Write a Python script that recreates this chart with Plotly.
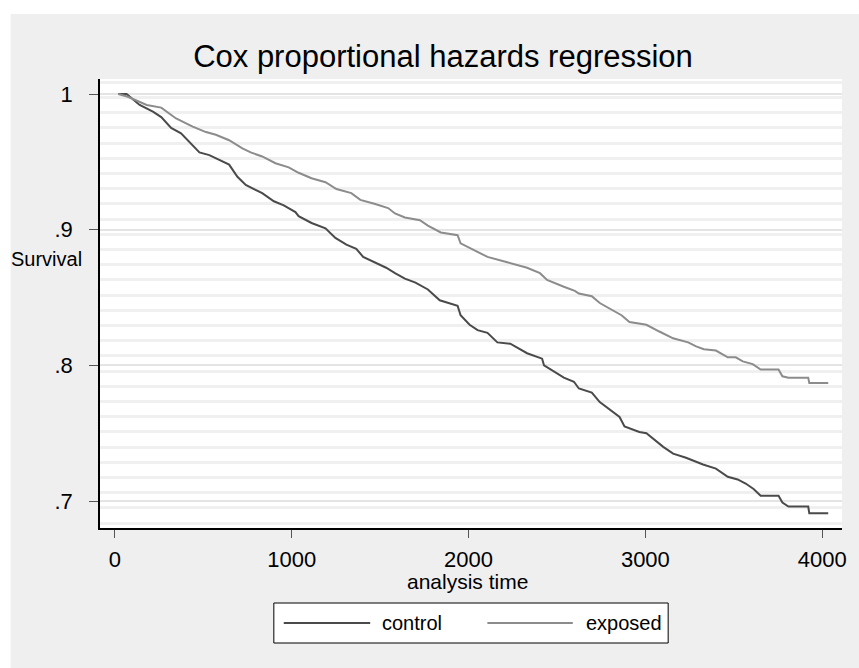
import plotly.graph_objects as go

# ---- data ----
control_time = [19, 66, 140, 215, 262, 300, 318, 374, 412, 478, 534, 599, 646, 693, 740, 833, 899, 955,
                1021, 1039, 1112, 1191, 1247, 1309, 1365, 1404, 1472, 1534, 1584, 1640, 1700, 1770, 1837,
                1938, 1955, 2006, 2051, 2107, 2163, 2236, 2331, 2416, 2427, 2539, 2596, 2624, 2697, 2742,
                2854, 2882, 2966, 3006, 3101, 3157, 3230, 3326, 3399, 3466, 3522, 3567, 3612, 3652, 3753,
                3775, 3809, 3921, 3927, 4034]
control_surv = [1.0, 1.0, 0.992, 0.987, 0.983, 0.977, 0.975, 0.971, 0.966, 0.957, 0.955, 0.951, 0.948, 0.939,
                0.933, 0.927, 0.921, 0.918, 0.913, 0.910, 0.905, 0.901, 0.894, 0.889, 0.886, 0.880, 0.876,
                0.872, 0.868, 0.864, 0.861, 0.856, 0.848, 0.844, 0.837, 0.830, 0.826, 0.824, 0.817, 0.816,
                0.809, 0.805, 0.800, 0.791, 0.788, 0.783, 0.780, 0.773, 0.762, 0.755, 0.751, 0.750, 0.740,
                0.735, 0.732, 0.727, 0.724, 0.718, 0.716, 0.713, 0.709, 0.704, 0.704, 0.699, 0.696, 0.696,
                0.691, 0.691]

exposed_time = [19, 73, 180, 262, 346, 440, 515, 571, 646, 721, 768, 833, 908, 983, 1039, 1112, 1191, 1253,
                1337, 1388, 1472, 1545, 1584, 1640, 1725, 1770, 1843, 1938, 1955, 2034, 2107, 2219, 2331,
                2404, 2444, 2539, 2601, 2624, 2697, 2742, 2865, 2910, 2966, 3006, 3079, 3157, 3242, 3287,
                3331, 3399, 3466, 3511, 3551, 3607, 3652, 3753, 3775, 3809, 3921, 3927, 4034]
exposed_surv = [1.0, 0.998, 0.992, 0.990, 0.982, 0.976, 0.972, 0.970, 0.966, 0.960, 0.957, 0.954, 0.949,
                0.946, 0.942, 0.938, 0.935, 0.930, 0.927, 0.922, 0.919, 0.916, 0.912, 0.909, 0.907, 0.903,
                0.898, 0.896, 0.890, 0.885, 0.880, 0.876, 0.872, 0.868, 0.863, 0.858, 0.855, 0.853, 0.851,
                0.846, 0.837, 0.832, 0.831, 0.830, 0.825, 0.820, 0.817, 0.814, 0.812, 0.811, 0.806, 0.806,
                0.803, 0.801, 0.797, 0.797, 0.792, 0.791, 0.791, 0.787, 0.787]

x_ticks = [0, 1000, 2000, 3000, 4000]
y_ticks = [0.7, 0.8, 0.9, 1.0]
y_ticktext = [".7", ".8", ".9", "1"]
series_names = ["control", "exposed"]
series_colors = ["#4a4a4a", "#8c8c8c"]

FONT = "Liberation Sans, Arial, sans-serif"

fig = go.Figure()
fig.add_trace(go.Scatter(x=control_time, y=control_surv, mode="lines", name=series_names[0],
                         line=dict(color=series_colors[0], width=2), showlegend=False))
fig.add_trace(go.Scatter(x=exposed_time, y=exposed_surv, mode="lines", name=series_names[1],
                         line=dict(color=series_colors[1], width=2), showlegend=False))

W, H = 859, 668
L, R, T, B = 100, 12, 79, 140
pw, ph = W - L - R, H - T - B

def px_x(p):
    return (p - L) / pw

def px_y(p):
    return (H - B - p) / ph

shapes = [
    # white outer strips (top & left)
    dict(type="rect", xref="paper", yref="paper", x0=px_x(-5), x1=px_x(W + 5), y0=px_y(14), y1=px_y(-5),
         fillcolor="white", line=dict(width=0), layer="below"),
    dict(type="rect", xref="paper", yref="paper", x0=px_x(-5), x1=px_x(10), y0=px_y(H + 5), y1=px_y(-5),
         fillcolor="white", line=dict(width=0), layer="below"),
    # legend box
    dict(type="rect", xref="paper", yref="paper", x0=px_x(275), x1=px_x(672), y0=px_y(643), y1=px_y(603),
         fillcolor="white", line=dict(color="black", width=1)),
    dict(type="line", xref="paper", yref="paper", x0=px_x(285), x1=px_x(372), y0=px_y(623), y1=px_y(623),
         line=dict(color=series_colors[0], width=2)),
    dict(type="line", xref="paper", yref="paper", x0=px_x(490), x1=px_x(576), y0=px_y(623), y1=px_y(623),
         line=dict(color=series_colors[1], width=2)),
]

annotations = [
    dict(text="Survival", xref="paper", yref="paper", x=px_x(8), y=px_y(259), xanchor="left",
         yanchor="middle", showarrow=False, font=dict(size=20, color="black", family=FONT)),
    dict(text="analysis time", xref="paper", yref="paper", x=px_x(470), y=px_y(581), xanchor="center",
         yanchor="middle", showarrow=False, font=dict(size=21, color="black", family=FONT)),
    dict(text=series_names[0], xref="paper", yref="paper", x=px_x(382), y=px_y(623), xanchor="left",
         yanchor="middle", showarrow=False, font=dict(size=20, color="black", family=FONT)),
    dict(text=series_names[1], xref="paper", yref="paper", x=px_x(668), y=px_y(623), xanchor="right",
         yanchor="middle", showarrow=False, font=dict(size=20, color="black", family=FONT)),
]

fig.update_layout(
    width=W, height=H,
    margin=dict(l=L, r=R, t=T, b=B, pad=0),
    paper_bgcolor="#efefef",
    plot_bgcolor="white",
    font=dict(family=FONT, color="black"),
    title=dict(text="Cox proportional hazards regression", x=443 / W, xanchor="center",
               y=1 - 56 / H, yanchor="middle", yref="container",
               font=dict(size=31, color="black", family=FONT)),
    shapes=shapes,
    annotations=annotations,
    xaxis=dict(range=[-84.3, 4112], tickvals=x_ticks, ticks="outside", ticklen=8, tickwidth=1,
               tickcolor="#555555", showline=True, linecolor="black", linewidth=1.5,
               showgrid=False, zeroline=False, tickfont=dict(size=22, family=FONT),
               ticklabelstandoff=3),
    yaxis=dict(range=[0.6802, 1.0111], tickvals=y_ticks, ticktext=y_ticktext, ticks="outside",
               ticklen=9, tickwidth=1, tickcolor="#555555", showline=True, linecolor="black",
               linewidth=1.5, showgrid=True, gridcolor="#e4e4e4", gridwidth=2, zeroline=False,
               tickfont=dict(size=22, family=FONT), ticklabelstandoff=12,
               minor=dict(tick0=0.919, dtick=0.0112, showgrid=True, gridcolor="#f0f0f0",
                          gridwidth=3, ticks="")),
)

fig.write_html("out.html")
